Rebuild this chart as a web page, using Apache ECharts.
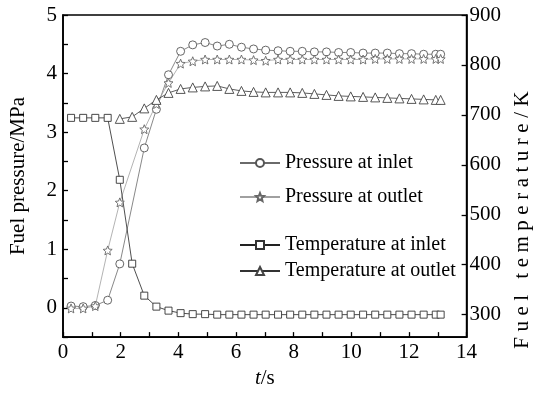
<!DOCTYPE html>
<html>
<head>
<meta charset="utf-8">
<script src="https://cdn.jsdelivr.net/npm/echarts@6/dist/echarts.min.js"></script>
<style>
  html, body { margin: 0; background: #fff; }
  #chart { width: 541px; height: 394px; }
</style>
</head>
<body>
<div id="chart"></div>
<script>
// time of each sample, s
const time = [0.28, 0.7, 1.12, 1.55, 1.97, 2.4, 2.82, 3.24, 3.66, 4.08, 4.5, 4.93, 5.35, 5.77, 6.19, 6.61,
  7.03, 7.46, 7.88, 8.3, 8.72, 9.14, 9.56, 9.98, 10.41, 10.83, 11.25, 11.67, 12.09, 12.51, 12.93, 13.1];

// fuel pressure, MPa (null = no marker at that sample)
const pressureInlet = [0.03, 0.02, 0.04, 0.13, 0.75, null, 2.73, 3.39, 3.98, 4.38, 4.49, 4.53, 4.47, 4.5, 4.45, 4.42,
  4.4, 4.39, 4.38, 4.38, 4.37, 4.37, 4.36, 4.36, 4.35, 4.35, 4.35, 4.34, 4.34, 4.33, 4.33, 4.33];
const pressureOutlet = [-0.01, -0.01, 0.03, 0.98, 1.8, null, 3.05, 3.48, 3.84, 4.17, 4.21, 4.24, 4.24, 4.24, 4.24, 4.23,
  4.22, 4.24, 4.24, 4.24, 4.24, 4.24, 4.24, 4.24, 4.24, 4.25, 4.25, 4.25, 4.25, 4.25, 4.25, 4.25];

// fuel temperature, K
const tempInlet = [694, 694, 694, 694, 570, 402, 338, 316, 308, 303, 301, 301, 300, 300, 300, 300,
  300, 300, 300, 300, 300, 300, 300, 300, 300, 300, 300, 300, 300, 300, 300, 300];
const tempOutlet = [null, null, null, null, 692, 696, 713, 730, 744, 752, 755, 757, 758, 752, 748, 746,
  745, 745, 745, 744, 742, 740, 738, 737, 736, 735, 734, 733, 732, 731, 730, 730];

const seriesNames = ["Pressure at inlet", "Pressure at outlet", "Temperature at inlet", "Temperature at outlet"];

const FONT = '"Liberation Serif", "Times New Roman", serif';
const STAR = "path://M10,0 L12.65,6.36 L19.51,6.91 L14.28,11.39 L15.88,18.09 L10,14.5 L4.12,18.09 L5.72,11.39 L0.49,6.91 L7.35,6.36 Z";

function pairs(values) {
  return time.map((t, i) => [t, values[i]]).filter((p) => p[1] !== null);
}

function lineSeries(name, values, yAxisIndex, symbol, symbolSize, lineColor, markerColor) {
  return {
    name,
    type: "line",
    yAxisIndex,
    data: pairs(values),
    symbol,
    symbolSize,
    showAllSymbol: true,
    animation: false,
    lineStyle: { color: lineColor, width: 0.8 },
    itemStyle: { color: "#fff", borderColor: markerColor, borderWidth: 0.9 },
  };
}

// the right axis title is set wide in the figure, so space out its letters
function spaced(text) {
  const chars = Array.from(text);
  return chars.map((c, i) => `{${i === chars.length - 1 ? "last" : "c"}|${c === " " ? "\u00a0" : c}}`).join("");
}

const axisCommon = {
  axisLine: { show: true, onZero: false, lineStyle: { color: "#000", width: 1.6 } },
  axisTick: { show: true, inside: true, length: 5, lineStyle: { color: "#000", width: 1.3 } },
  splitLine: { show: false },
};

const legendTops = [153, 187, 235, 261];

const chart = echarts.init(document.getElementById("chart"));
chart.setOption({
  animation: false,
  textStyle: { fontFamily: FONT },
  grid: {
    left: 61, right: 66, top: 15, bottom: 53,
    show: true, borderColor: "#000", borderWidth: 1.6,
  },
  legend: seriesNames.map((name, i) => ({
    data: [name],
    left: 239,
    top: legendTops[i],
    padding: 0,
    itemWidth: 40,
    itemHeight: 10,
    textStyle: { fontFamily: FONT, fontSize: 20, color: "#000" },
  })),
  xAxis: {
    ...axisCommon,
    type: "value",
    min: 0,
    max: 14,
    interval: 1,
    name: "{it|t}/s",
    nameLocation: "middle",
    nameGap: 30,
    nameTextStyle: {
      fontFamily: FONT, fontSize: 21, color: "#000",
      rich: { it: { fontStyle: "italic", fontFamily: FONT, fontSize: 21 } },
    },
    axisLabel: {
      margin: 5,
      fontFamily: FONT, fontSize: 21, color: "#000",
      formatter: (v) => (v % 2 === 0 ? String(v) : ""),
    },
  },
  yAxis: [
    {
      ...axisCommon,
      type: "value",
      position: "left",
      min: -0.5,
      max: 5,
      interval: 0.5,
      name: "Fuel pressure/MPa",
      nameLocation: "middle",
      nameRotate: 90,
      nameGap: 34,
      nameTextStyle: { fontFamily: FONT, fontSize: 21, color: "#000" },
      axisLabel: {
        margin: 6,
        fontFamily: FONT, fontSize: 21, color: "#000",
        formatter: (v) => (Number.isInteger(v) ? String(v) : ""),
      },
    },
    {
      ...axisCommon,
      type: "value",
      position: "right",
      min: 255,
      max: 900,
      name: spaced("Fuel temperature/K"),
      nameLocation: "middle",
      nameRotate: 90,
      nameGap: 44,
      nameTextStyle: {
        fontFamily: FONT, fontSize: 21, color: "#000",
        rich: {
          c: { fontFamily: FONT, fontSize: 21, color: "#000", padding: [0, 5.5, 0, 0] },
          last: { fontFamily: FONT, fontSize: 21, color: "#000", padding: [0, 88, 0, 0] },
        },
      },
      axisLabel: {
        margin: 3,
        showMinLabel: false,
        fontFamily: FONT, fontSize: 21, color: "#000",
      },
    },
  ],
  series: [
    lineSeries(seriesNames[0], pressureInlet, 0, "circle", 8, "#6a6a6a", "#555"),
    lineSeries(seriesNames[1], pressureOutlet, 0, STAR, 9, "#a0a0a0", "#666"),
    lineSeries(seriesNames[2], tempInlet, 1, "rect", 7, "#222", "#333"),
    lineSeries(seriesNames[3], tempOutlet, 1, "triangle", 9, "#333", "#444"),
  ],
});
</script>
</body>
</html>
